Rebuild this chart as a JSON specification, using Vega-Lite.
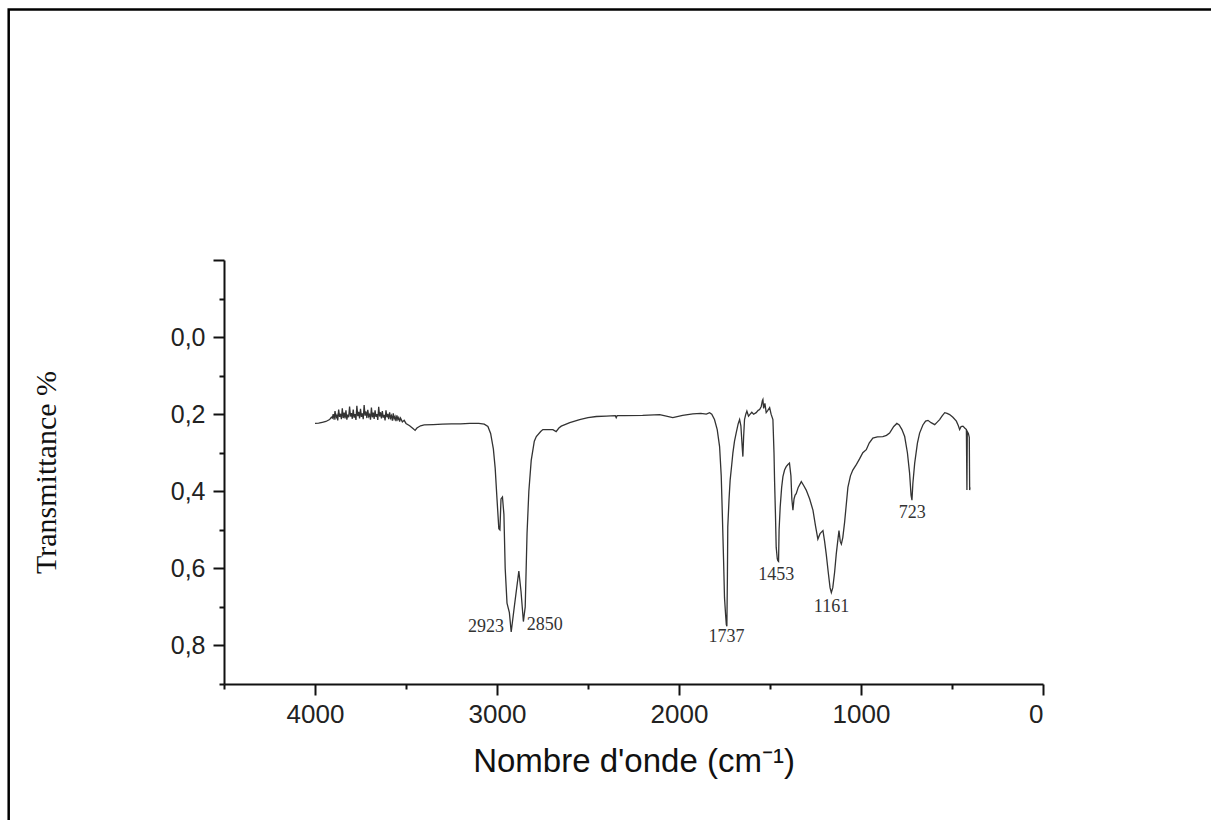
{
  "$schema": "https://vega.github.io/schema/vega-lite/v6.json",
  "width": 819,
  "height": 424,
  "autosize": "none",
  "padding": {"left": 224, "top": 260, "right": 168, "bottom": 136},
  "background": "white",
  "config": {"view": {"stroke": null}},
  "datasets": {
    "spectrum": [
      {"wn":4000,"t":0.224},{"wn":3980,"t":0.223},{"wn":3960,"t":0.221},{"wn":3940,"t":0.219},{"wn":3920,"t":0.214},{"wn":3910,"t":0.208},
      {"wn":3905,"t":0.21},{"wn":3900,"t":0.2},{"wn":3895,"t":0.214},{"wn":3890,"t":0.192},{"wn":3885,"t":0.209},{"wn":3880,"t":0.203},{"wn":3875,"t":0.216},{"wn":3870,"t":0.188},{"wn":3865,"t":0.207},{"wn":3860,"t":0.199},{"wn":3855,"t":0.213},{"wn":3850,"t":0.185},{"wn":3845,"t":0.21},{"wn":3840,"t":0.196},{"wn":3835,"t":0.211},{"wn":3830,"t":0.19},{"wn":3825,"t":0.214},{"wn":3820,"t":0.201},{"wn":3815,"t":0.208},{"wn":3810,"t":0.18},{"wn":3805,"t":0.206},{"wn":3800,"t":0.197},{"wn":3795,"t":0.212},{"wn":3790,"t":0.188},{"wn":3785,"t":0.209},{"wn":3780,"t":0.2},{"wn":3775,"t":0.215},{"wn":3770,"t":0.178},{"wn":3765,"t":0.205},{"wn":3760,"t":0.194},{"wn":3755,"t":0.211},{"wn":3750,"t":0.186},{"wn":3745,"t":0.207},{"wn":3740,"t":0.198},{"wn":3735,"t":0.213},{"wn":3730,"t":0.176},{"wn":3725,"t":0.204},{"wn":3720,"t":0.193},{"wn":3715,"t":0.21},{"wn":3710,"t":0.189},{"wn":3705,"t":0.206},{"wn":3700,"t":0.201},{"wn":3695,"t":0.214},{"wn":3690,"t":0.183},{"wn":3685,"t":0.208},{"wn":3680,"t":0.196},{"wn":3675,"t":0.212},{"wn":3670,"t":0.19},{"wn":3665,"t":0.207},{"wn":3660,"t":0.2},{"wn":3655,"t":0.215},{"wn":3650,"t":0.181},{"wn":3645,"t":0.206},{"wn":3640,"t":0.195},{"wn":3635,"t":0.211},{"wn":3630,"t":0.192},{"wn":3625,"t":0.209},{"wn":3620,"t":0.202},{"wn":3615,"t":0.216},{"wn":3610,"t":0.19},{"wn":3605,"t":0.208},{"wn":3600,"t":0.199},{"wn":3595,"t":0.213},{"wn":3590,"t":0.195},{"wn":3585,"t":0.21},{"wn":3580,"t":0.204},{"wn":3575,"t":0.217},{"wn":3570,"t":0.198},{"wn":3565,"t":0.212},{"wn":3560,"t":0.206},{"wn":3555,"t":0.218},{"wn":3550,"t":0.203},{"wn":3545,"t":0.214},{"wn":3540,"t":0.209},{"wn":3535,"t":0.219},{"wn":3530,"t":0.21},{"wn":3520,"t":0.22},{"wn":3510,"t":0.216},{"wn":3500,"t":0.224},
      {"wn":3480,"t":0.23},{"wn":3460,"t":0.238},{"wn":3450,"t":0.242},{"wn":3440,"t":0.236},{"wn":3420,"t":0.23},{"wn":3400,"t":0.228},{"wn":3350,"t":0.227},{"wn":3300,"t":0.226},{"wn":3250,"t":0.225},{"wn":3200,"t":0.225},{"wn":3150,"t":0.224},{"wn":3100,"t":0.224},
      {"wn":3070,"t":0.226},{"wn":3050,"t":0.232},{"wn":3035,"t":0.25},{"wn":3020,"t":0.29},{"wn":3010,"t":0.34},{"wn":3000,"t":0.42},{"wn":2990,"t":0.497},{"wn":2984,"t":0.5},{"wn":2978,"t":0.42},{"wn":2970,"t":0.415},{"wn":2962,"t":0.46},{"wn":2955,"t":0.6},{"wn":2945,"t":0.69},{"wn":2932,"t":0.715},{"wn":2922,"t":0.765},{"wn":2905,"t":0.7},{"wn":2880,"t":0.607},{"wn":2868,"t":0.66},{"wn":2855,"t":0.738},{"wn":2845,"t":0.7},{"wn":2835,"t":0.51},{"wn":2825,"t":0.4},{"wn":2812,"t":0.32},{"wn":2795,"t":0.27},{"wn":2784,"t":0.258},{"wn":2760,"t":0.245},{"wn":2748,"t":0.24},{"wn":2720,"t":0.24},{"wn":2693,"t":0.24},{"wn":2675,"t":0.245},{"wn":2660,"t":0.236},{"wn":2647,"t":0.231},{"wn":2600,"t":0.222},{"wn":2546,"t":0.214},{"wn":2500,"t":0.209},{"wn":2454,"t":0.206},{"wn":2400,"t":0.205},{"wn":2350,"t":0.204},{"wn":2345,"t":0.209},{"wn":2340,"t":0.204},{"wn":2300,"t":0.204},{"wn":2200,"t":0.203},{"wn":2106,"t":0.201},{"wn":2034,"t":0.209},{"wn":1980,"t":0.203},{"wn":1924,"t":0.199},{"wn":1880,"t":0.198},{"wn":1850,"t":0.2},{"wn":1832,"t":0.196},{"wn":1820,"t":0.2},{"wn":1805,"t":0.214},{"wn":1790,"t":0.24},{"wn":1777,"t":0.284},{"wn":1768,"t":0.36},{"wn":1762,"t":0.458},{"wn":1755,"t":0.58},{"wn":1750,"t":0.676},{"wn":1744,"t":0.72},{"wn":1740,"t":0.746},{"wn":1737,"t":0.75},{"wn":1734,"t":0.62},{"wn":1732,"t":0.493},{"wn":1725,"t":0.42},{"wn":1719,"t":0.371},{"wn":1710,"t":0.33},{"wn":1704,"t":0.301},{"wn":1695,"t":0.27},{"wn":1686,"t":0.249},{"wn":1675,"t":0.225},{"wn":1667,"t":0.214},{"wn":1660,"t":0.23},{"wn":1652,"t":0.29},{"wn":1649,"t":0.31},{"wn":1645,"t":0.26},{"wn":1640,"t":0.214},{"wn":1633,"t":0.2},{"wn":1627,"t":0.192},{"wn":1618,"t":0.205},{"wn":1609,"t":0.2},{"wn":1600,"t":0.195},{"wn":1590,"t":0.2},{"wn":1576,"t":0.196},{"wn":1565,"t":0.19},{"wn":1557,"t":0.188},{"wn":1548,"t":0.18},{"wn":1542,"t":0.165},{"wn":1539,"t":0.162},{"wn":1535,"t":0.185},{"wn":1528,"t":0.172},{"wn":1521,"t":0.196},{"wn":1512,"t":0.19},{"wn":1502,"t":0.183},{"wn":1494,"t":0.2},{"wn":1484,"t":0.214},{"wn":1478,"t":0.3},{"wn":1475,"t":0.371},{"wn":1470,"t":0.46},{"wn":1466,"t":0.545},{"wn":1460,"t":0.575},{"wn":1457,"t":0.58},{"wn":1453,"t":0.582},{"wn":1450,"t":0.5},{"wn":1444,"t":0.441},{"wn":1436,"t":0.39},{"wn":1429,"t":0.362},{"wn":1420,"t":0.345},{"wn":1411,"t":0.336},{"wn":1400,"t":0.33},{"wn":1393,"t":0.327},{"wn":1385,"t":0.36},{"wn":1380,"t":0.42},{"wn":1374,"t":0.449},{"wn":1368,"t":0.42},{"wn":1362,"t":0.41},{"wn":1356,"t":0.406},{"wn":1345,"t":0.39},{"wn":1328,"t":0.375},{"wn":1315,"t":0.385},{"wn":1301,"t":0.397},{"wn":1282,"t":0.42},{"wn":1264,"t":0.449},{"wn":1250,"t":0.49},{"wn":1237,"t":0.524},{"wn":1225,"t":0.51},{"wn":1209,"t":0.502},{"wn":1200,"t":0.53},{"wn":1191,"t":0.563},{"wn":1180,"t":0.61},{"wn":1170,"t":0.65},{"wn":1163,"t":0.663},{"wn":1155,"t":0.65},{"wn":1145,"t":0.61},{"wn":1136,"t":0.563},{"wn":1128,"t":0.53},{"wn":1121,"t":0.502},{"wn":1114,"t":0.53},{"wn":1108,"t":0.537},{"wn":1100,"t":0.52},{"wn":1090,"t":0.48},{"wn":1072,"t":0.39},{"wn":1058,"t":0.36},{"wn":1045,"t":0.345},{"wn":1025,"t":0.33},{"wn":1008,"t":0.316},{"wn":990,"t":0.3},{"wn":971,"t":0.292},{"wn":955,"t":0.275},{"wn":935,"t":0.262},{"wn":910,"t":0.259},{"wn":880,"t":0.258},{"wn":860,"t":0.255},{"wn":843,"t":0.249},{"wn":820,"t":0.232},{"wn":803,"t":0.224},{"wn":790,"t":0.228},{"wn":775,"t":0.24},{"wn":760,"t":0.258},{"wn":745,"t":0.3},{"wn":733,"t":0.353},{"wn":725,"t":0.41},{"wn":720,"t":0.423},{"wn":715,"t":0.38},{"wn":705,"t":0.327},{"wn":690,"t":0.275},{"wn":678,"t":0.249},{"wn":660,"t":0.228},{"wn":645,"t":0.218},{"wn":632,"t":0.216},{"wn":615,"t":0.222},{"wn":595,"t":0.227},{"wn":580,"t":0.22},{"wn":568,"t":0.214},{"wn":555,"t":0.205},{"wn":540,"t":0.196},{"wn":527,"t":0.198},{"wn":513,"t":0.201},{"wn":495,"t":0.208},{"wn":476,"t":0.218},{"wn":465,"t":0.23},{"wn":458,"t":0.24},{"wn":450,"t":0.232},{"wn":440,"t":0.231},{"wn":430,"t":0.236},{"wn":421,"t":0.24},{"wn":418,"t":0.397},{"wn":416,"t":0.245},{"wn":410,"t":0.25},{"wn":405,"t":0.26},{"wn":403,"t":0.397},{"wn":401,"t":0.39}
    ],
    "peaks": [
      {"wn":3060,"t":0.753,"label":"2923"},
      {"wn":2738,"t":0.748,"label":"2850"},
      {"wn":1739,"t":0.777,"label":"1737"},
      {"wn":1465,"t":0.617,"label":"1453"},
      {"wn":1162,"t":0.701,"label":"1161"},
      {"wn":719,"t":0.457,"label":"723"}
    ],
    "frame": [
      {"x1":5683,"x2":-944,"y1":-0.85,"y2":1.274}
    ]
  },
  "layer": [
    {
      "data": {"name": "frame"},
      "mark": {"type": "rect", "fill": null, "stroke": "black", "strokeWidth": 2.5, "clip": false},
      "encoding": {
        "x": {"field": "x1", "type": "quantitative", "scale": {"domain": [0, 4500], "reverse": true, "nice": false, "zero": false}, "axis": null},
        "x2": {"field": "x2"},
        "y": {"field": "y1", "type": "quantitative", "scale": {"domain": [-0.2, 0.9], "reverse": true, "nice": false, "zero": false}, "axis": null},
        "y2": {"field": "y2"}
      }
    },
    {
      "data": {"name": "spectrum"},
      "mark": {"type": "line", "color": "#333333", "strokeWidth": 1.3},
      "encoding": {
        "x": {
          "field": "wn", "type": "quantitative",
          "scale": {"domain": [0, 4500], "reverse": true, "nice": false, "zero": false},
          "axis": {
            "orient": "bottom",
            "values": [4000, 3000, 2000, 1000, 0],
            "title": "Nombre d'onde (cm⁻¹)",
            "titleFont": "Liberation Sans", "titleFontSize": 33, "titleFontWeight": "normal", "titleColor": "#111", "titlePadding": 18,
            "labelFont": "Liberation Sans", "labelFontSize": 26, "labelColor": "#222", "labelPadding": 6,
            "format": "d",
            "domainColor": "#111", "domainWidth": 2,
            "tickColor": "#111", "tickWidth": 2, "tickSize": 11,
            "grid": false
          }
        },
        "y": {
          "field": "t", "type": "quantitative",
          "scale": {"domain": [-0.2, 0.9], "reverse": true, "nice": false, "zero": false},
          "axis": {
            "orient": "left",
            "values": [-0.2, 0, 0.2, 0.4, 0.6, 0.8],
            "labelExpr": "datum.value < -0.1 ? '' : replace(format(datum.value, '.1f'), '.', ',')",
            "title": "Transmittance %",
            "titleFont": "Liberation Serif", "titleFontSize": 30, "titleFontWeight": "normal", "titleColor": "#111", "titlePadding": 109,
            "labelFont": "Liberation Sans", "labelFontSize": 25, "labelColor": "#222", "labelPadding": 8,
            "domainColor": "#111", "domainWidth": 2,
            "tickColor": "#111", "tickWidth": 2, "tickSize": 11,
            "grid": false
          }
        }
      }
    },
    {
      "data": {"name": "peaks"},
      "mark": {"type": "text", "font": "Liberation Serif", "fontSize": 18, "color": "#333", "align": "center", "baseline": "middle"},
      "encoding": {
        "x": {
          "field": "wn", "type": "quantitative",
          "scale": {"domain": [0, 4500], "reverse": true, "nice": false, "zero": false},
          "axis": {
            "orient": "bottom",
            "values": [4500, 3500, 2500, 1500, 500],
            "labels": false, "title": null, "domain": false,
            "tickColor": "#111", "tickWidth": 2, "tickSize": 5,
            "grid": false
          }
        },
        "y": {
          "field": "t", "type": "quantitative",
          "scale": {"domain": [-0.2, 0.9], "reverse": true, "nice": false, "zero": false},
          "axis": {
            "orient": "left",
            "values": [-0.1, 0.1, 0.3, 0.5, 0.7, 0.9],
            "labels": false, "title": null, "domain": false,
            "tickColor": "#111", "tickWidth": 2, "tickSize": 5,
            "grid": false
          }
        },
        "text": {"field": "label"}
      }
    }
  ],
  "resolve": {"axis": {"x": "independent", "y": "independent"}}
}
